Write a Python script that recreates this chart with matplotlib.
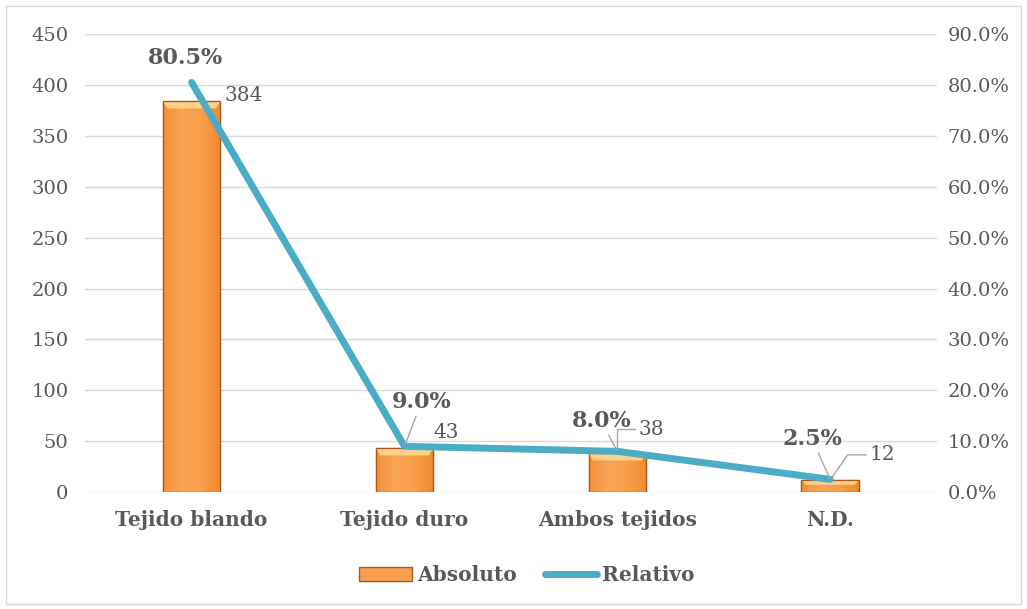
import matplotlib.pyplot as plt
import numpy as np
from matplotlib.patches import Rectangle, Polygon
from matplotlib.lines import Line2D
from matplotlib.colors import LinearSegmentedColormap

categorias = ["Tejido blando", "Tejido duro", "Ambos tejidos", "N.D."]
absoluto = [384, 43, 38, 12]
relativo = [80.5, 9.0, 8.0, 2.5]

plt.rcParams['font.family'] = ['DejaVu Serif']
gris = '#595959'
naranja = '#F89A43'
azul = '#4BACC6'
guia = '#A6A6A6'
borde = '#A9581A'

fig = plt.figure(figsize=(10.27, 6.09), dpi=100)
# marco del grafico
fig.patches.append(Rectangle((0.006, 0.008), 0.988, 0.982, transform=fig.transFigure,
                             fill=False, edgecolor='#D9D9D9', linewidth=1))
ax = fig.add_axes([0.083, 0.192, 0.829, 0.752])
ax2 = ax.twinx()

x = np.arange(len(categorias))
barras = ax.bar(x, absoluto, width=0.27, color=naranja, edgecolor=borde,
                linewidth=0.9, zorder=2)

# degradado horizontal suave y bisel superior de las barras
degradado = LinearSegmentedColormap.from_list('bar', ['#F49038', '#FAA456', '#F99E4B', '#EE8A2E'])
for b in barras:
    x0, w, h = b.get_x(), b.get_width(), b.get_height()
    img = ax.imshow(np.linspace(0, 1, 100).reshape(1, -1), cmap=degradado,
                    extent=(x0, x0 + w, 0, h), aspect='auto', zorder=2.1)
    img.set_clip_path(b)
    bis = min(7, h * 0.4)
    dx = 0.02
    ax.add_patch(Polygon([(x0, h), (x0 + w, h), (x0 + w - dx, h - bis), (x0 + dx, h - bis)],
                         closed=True, facecolor='#FCD58E', edgecolor='none', alpha=0.95, zorder=2.2))
    ax.add_patch(Rectangle((x0, 0), w, h, fill=False, edgecolor=borde, lw=0.9, zorder=2.3))

ax.set_ylim(0, 450)
ax.set_yticks(range(0, 451, 50))
ax.set_xlim(-0.5, 3.5)
ax.set_xticks(x)
ax.set_xticklabels(categorias, fontsize=14.5, fontweight='bold', color=gris)
ax.grid(axis='y', color='#D9D9D9', linewidth=1, zorder=0)
ax.set_axisbelow(True)
ax.tick_params(axis='y', length=0, labelsize=14, labelcolor=gris, pad=12)
ax.tick_params(axis='x', length=0, pad=13)
for s in ax.spines.values():
    s.set_visible(False)

ax2.plot(x, relativo, color=azul, linewidth=5, solid_capstyle='round', zorder=4)
ax2.set_ylim(0, 90)
ax2.set_yticks(range(0, 91, 10))
ax2.set_yticklabels([f"{v:.1f}%" for v in range(0, 91, 10)])
ax2.tick_params(axis='y', length=0, labelsize=14, labelcolor=gris, pad=8)
for s in ax2.spines.values():
    s.set_visible(False)

# etiquetas de valor absoluto (desplazamiento en puntos desde el tope de la barra)
desp_abs = [(23.5, 4), (21, 11.5), (15, 17.3), (28, 18)]
conexion = [None, None, 'angle,angleA=0,angleB=90,rad=0', 'angle,angleA=0,angleB=55,rad=0']
for i, v in enumerate(absoluto):
    flecha = None
    if conexion[i]:
        flecha = dict(arrowstyle='-', color=guia, lw=1, shrinkA=0, shrinkB=0,
                      connectionstyle=conexion[i])
    ax.annotate(str(v), (x[i], v), xytext=desp_abs[i], textcoords='offset points',
                fontsize=14.5, color=gris, ha='left', va='center', arrowprops=flecha, zorder=5)

# etiquetas de porcentaje
desp_rel = [(-4.3, 17.3), (12.2, 31.7), (-11.5, 21.6), (-13, 28.8)]
for i, v in enumerate(relativo):
    flecha = None
    if i > 0:
        flecha = dict(arrowstyle='-', color=guia, lw=1, shrinkA=0, shrinkB=1)
    ax2.annotate(f"{v:.1f}%", (x[i], v), xytext=desp_rel[i], textcoords='offset points',
                 fontsize=16, fontweight='bold', color=gris, ha='center', va='center',
                 arrowprops=flecha, zorder=5)

leyenda = [Rectangle((0, 0), 1, 1, facecolor='#F9A04E', edgecolor=borde),
           Line2D([0], [0], color=azul, linewidth=5, solid_capstyle='round')]
ley = fig.legend(leyenda, ["Absoluto", "Relativo"], loc='center', bbox_to_anchor=(0.513, 0.056),
                 ncol=2, frameon=False, handlelength=2.6, columnspacing=1.4, handletextpad=0.25,
                 prop={'size': 14.5, 'weight': 'bold'})
for t in ley.get_texts():
    t.set_color(gris)

fig.savefig('out.png', dpi=100)
